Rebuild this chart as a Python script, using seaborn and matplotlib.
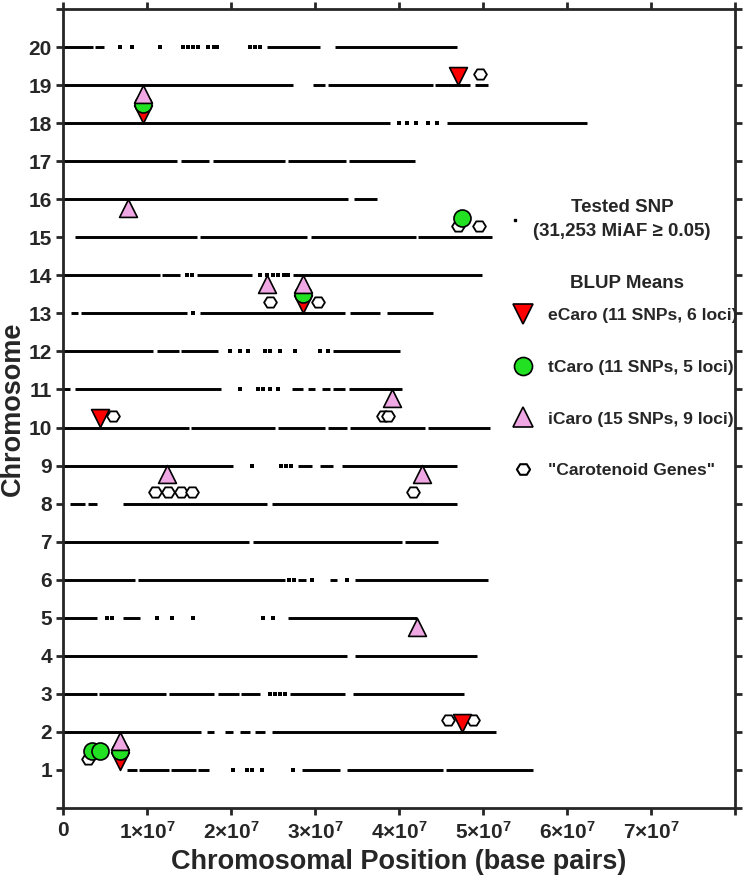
import numpy as np
import pandas as pd
import matplotlib
matplotlib.use("Agg")
import matplotlib.pyplot as plt
import seaborn as sns
from matplotlib.lines import Line2D
from matplotlib.path import Path

# SNP coverage per chromosome (start, end in Mb)
chr01_runs = [(7.6, 8.8), (9.1, 12.6), (12.9, 15.8), (16.1, 17.4), (28.4, 33.0), (33.8, 45.2), (45.6, 55.9)]
chr02_runs = [(0, 16.4), (17.1, 18.0), (19.3, 20.2), (21.1, 22.3), (22.9, 24.0), (24.9, 51.6)]
chr03_runs = [(0, 4.0), (4.3, 12.3), (12.6, 18.0), (18.4, 20.9), (21.2, 23.4), (27.0, 33.6), (34.5, 47.7)]
chr04_runs = [(0, 33.8), (34.8, 49.3)]
chr05_runs = [(0, 4.0), (7.1, 9.2), (26.8, 42.1)]
chr06_runs = [(0, 8.6), (8.9, 26.4), (28.0, 28.9), (31.8, 32.6), (34.8, 50.6)]
chr07_runs = [(0, 22.1), (22.6, 40.4), (40.7, 44.6)]
chr08_runs = [(0.8, 2.6), (3.0, 4.0), (7.1, 24.3), (24.9, 46.9)]
chr09_runs = [(0, 20.2), (28.0, 29.6), (30.6, 32.1), (33.2, 46.9)]
chr10_runs = [(0, 15.0), (15.2, 25.2), (25.6, 31.2), (31.5, 33.8), (34.2, 43.1), (43.5, 50.8)]
chr11_runs = [(0, 0.8), (1.4, 18.8), (27.3, 28.6), (29.2, 30.0), (30.8, 31.8), (32.1, 33.6), (34.0, 40.4)]
chr12_runs = [(0, 10.7), (11.2, 13.8), (14.0, 18.5), (32.1, 40.1)]
chr13_runs = [(1.0, 1.8), (2.2, 14.8), (16.3, 33.6), (34.2, 37.7), (38.6, 44.0)]
chr14_runs = [(0, 11.6), (11.8, 13.9), (15.9, 22.5), (27.4, 49.9)]
chr15_runs = [(1.4, 15.9), (16.3, 29.0), (29.5, 42.0), (42.3, 51.1)]
chr16_runs = [(0, 33.9), (34.6, 37.4)]
chr17_runs = [(0, 13.6), (14.0, 17.4), (17.9, 26.4), (26.8, 33.7), (34.0, 41.9)]
chr18_runs = [(0, 38.9), (45.7, 62.4)]
chr19_runs = [(0, 27.4), (29.8, 31.2), (31.5, 44.0), (44.3, 48.5), (49.0, 50.6)]
chr20_runs = [(0, 3.6), (3.8, 4.9), (24.3, 30.6), (32.4, 46.9)]

# isolated SNPs in sparse regions (Mb)
chr01_dots = [20.2, 21.9, 22.5, 23.7, 27.4]
chr03_dots = [24.6, 25.2, 25.8, 26.4]
chr05_dots = [5.2, 5.8, 11.2, 13.0, 15.5, 23.8, 25.0]
chr06_dots = [26.9, 27.5, 29.6, 33.8]
chr09_dots = [22.5, 26.0, 26.6, 27.1]
chr11_dots = [21.1, 23.2, 23.8, 24.6, 25.6]
chr12_dots = [19.9, 21.1, 22.0, 24.0, 24.6, 25.8, 27.6, 30.6, 31.5]
chr13_dots = [15.5]
chr14_dots = [14.8, 15.4, 23.5, 24.3, 25.0, 25.6, 26.3, 26.8]
chr18_dots = [40.0, 41.0, 42.0, 43.5, 44.5]
chr20_dots = [6.8, 8.2, 11.5, 14.3, 14.9, 15.5, 16.1, 17.3, 18.0, 18.3, 22.3, 22.9, 23.5]

snp_runs = [chr01_runs, chr02_runs, chr03_runs, chr04_runs, chr05_runs, chr06_runs, chr07_runs,
            chr08_runs, chr09_runs, chr10_runs, chr11_runs, chr12_runs, chr13_runs, chr14_runs,
            chr15_runs, chr16_runs, chr17_runs, chr18_runs, chr19_runs, chr20_runs]
snp_dots = {1: chr01_dots, 3: chr03_dots, 5: chr05_dots, 6: chr06_dots, 9: chr09_dots,
            11: chr11_dots, 12: chr12_dots, 13: chr13_dots, 14: chr14_dots, 18: chr18_dots,
            20: chr20_dots}

# significant SNPs (chromosome, position Mb)
ecaro_chr = [19, 18, 13, 10, 2, 1]
ecaro_pos = [47.0, 9.5, 28.6, 4.4, 47.5, 6.8]
tcaro_chr = [18, 15, 13, 1, 1, 1]
tcaro_pos = [9.5, 47.5, 28.6, 3.5, 4.4, 6.8]
icaro_chr = [18, 15, 13, 13, 10, 8, 8, 4, 1]
icaro_pos = [9.5, 7.7, 24.3, 28.6, 39.2, 12.4, 42.7, 42.1, 6.8]
gene_chr = [19, 15, 15, 13, 13, 10, 10, 10, 8, 8, 8, 8, 8, 2, 2, 1]
gene_pos = [49.6, 47.0, 49.5, 24.6, 30.4, 6.0, 38.1, 38.7, 11.0, 12.5, 14.1, 15.3, 41.7, 45.8, 48.8, 3.0]

legend_labels = ["eCaro (11 SNPs, 6 loci)", "tCaro (11 SNPs, 5 loci)",
                 "iCaro (15 SNPs, 9 loci)", "\"Carotenoid Genes\""]

sns.set_style("ticks")
plt.rcParams["font.family"] = ["Liberation Sans", "DejaVu Sans"]
plt.rcParams["font.weight"] = "bold"
plt.rcParams["mathtext.fontset"] = "custom"
plt.rcParams["mathtext.rm"] = "Liberation Sans:bold"
plt.rcParams["mathtext.bf"] = "Liberation Sans:bold"
plt.rcParams["mathtext.it"] = "Liberation Sans:bold"

fig = plt.figure(figsize=(7.46, 8.81), dpi=100)
ax = fig.add_axes([63 / 746, 1 - 808 / 881, 672 / 746, 799 / 881])

# SNP lines
runs = pd.DataFrame([(c + 1, s, e) for c, rr in enumerate(snp_runs) for s, e in rr],
                    columns=["chrom", "start", "end"])
ax.hlines(runs["chrom"], runs["start"] * 1e6, runs["end"] * 1e6, color="black", lw=2.1)
dots = pd.DataFrame([(c, p) for c, pp in snp_dots.items() for p in pp], columns=["chrom", "pos"])
dots["bp"] = dots["pos"] * 1e6
sns.scatterplot(data=dots, x="bp", y="chrom", marker="s", s=5, color="black",
                linewidth=0, ax=ax, legend=False)

# flat-topped, slightly wide hexagon for gene markers
hexagon = Path([(-1, 0), (-0.5, 0.8), (0.5, 0.8), (1, 0), (0.5, -0.8), (-0.5, -0.8), (-1, 0)],
               closed=True)

genes = pd.DataFrame({"bp": np.array(gene_pos) * 1e6, "y": np.array(gene_chr) + 0.3})
sns.scatterplot(data=genes, x="bp", y="y", marker=hexagon, s=85, color="white",
                edgecolor="black", linewidth=1.3, ax=ax, legend=False, zorder=3)
ec = pd.DataFrame({"bp": np.array(ecaro_pos) * 1e6, "y": np.array(ecaro_chr) + 0.24})
sns.scatterplot(data=ec, x="bp", y="y", marker="v", s=165, color="#ff0000",
                edgecolor="black", linewidth=1.2, ax=ax, legend=False, zorder=4)
tc = pd.DataFrame({"bp": np.array(tcaro_pos) * 1e6, "y": np.array(tcaro_chr) + 0.5})
sns.scatterplot(data=tc, x="bp", y="y", marker="o", s=150, color="#22e022",
                edgecolor="black", linewidth=1.2, ax=ax, legend=False, zorder=5)
ic = pd.DataFrame({"bp": np.array(icaro_pos) * 1e6, "y": np.array(icaro_chr) + 0.77})
sns.scatterplot(data=ic, x="bp", y="y", marker="^", s=165, color="#f0a8e4",
                edgecolor="black", linewidth=1.2, ax=ax, legend=False, zorder=6)

ax.set_xlim(0, 8e7)
ax.set_ylim(0, 21)
xt = np.arange(0, 9) * 1e7
ax.set_xticks(xt)
ax.set_xticklabels(["0"] + [f"{i}$\\times$10$^{{7}}$" for i in range(1, 8)] + [""],
                   fontsize=15, fontweight="bold")
ax.set_yticks(range(0, 22))
ax.set_yticklabels([""] + [str(i) for i in range(1, 21)] + [""], fontsize=15, fontweight="bold")
ax.tick_params(axis="both", which="both", direction="out", length=5, width=2,
               top=True, right=True)
ax.tick_params(axis="y", pad=3)
ax.tick_params(axis="x", pad=4)
for sp in ax.spines.values():
    sp.set_linewidth(2)
    sp.set_visible(True)

ax.set_xlabel("Chromosomal Position (base pairs)", fontsize=19.5, fontweight="bold", labelpad=5)
ax.set_ylabel("Chromosome", fontsize=19.5, fontweight="bold", labelpad=2)

# legend block on the right
fig.text(622 / 746, 1 - 208 / 881, "Tested SNP", ha="center", va="center",
         fontsize=13.5, fontweight="bold")
fig.text(622 / 746, 1 - 231 / 881, "(31,253 MiAF \u2265 0.05)", ha="center", va="center",
         fontsize=13.5, fontweight="bold")
fig.text(627 / 746, 1 - 283 / 881, "BLUP Means", ha="center", va="center",
         fontsize=13.5, fontweight="bold")
fig.add_artist(Line2D([515 / 746], [1 - 220 / 881], transform=fig.transFigure,
                      marker="s", ms=1.6, color="black", lw=0))

handles = [
    Line2D([], [], marker="v", ls="", ms=14, mfc="#ff0000", mec="black", mew=1.2),
    Line2D([], [], marker="o", ls="", ms=13, mfc="#22e022", mec="black", mew=1.2),
    Line2D([], [], marker="^", ls="", ms=14, mfc="#f0a8e4", mec="black", mew=1.2),
    Line2D([], [], marker=hexagon, ls="", ms=9.5, mfc="white", mec="black", mew=1.5),
]
ax.legend(handles, legend_labels, loc="upper left",
          bbox_to_anchor=(509 / 746, 1 - 308 / 881), bbox_transform=fig.transFigure,
          frameon=False, prop={"weight": "bold", "size": 12.6},
          handlelength=1.55, handletextpad=0.7, labelspacing=2.08, borderpad=0,
          borderaxespad=0)

fig.savefig("out.png", dpi=100)
